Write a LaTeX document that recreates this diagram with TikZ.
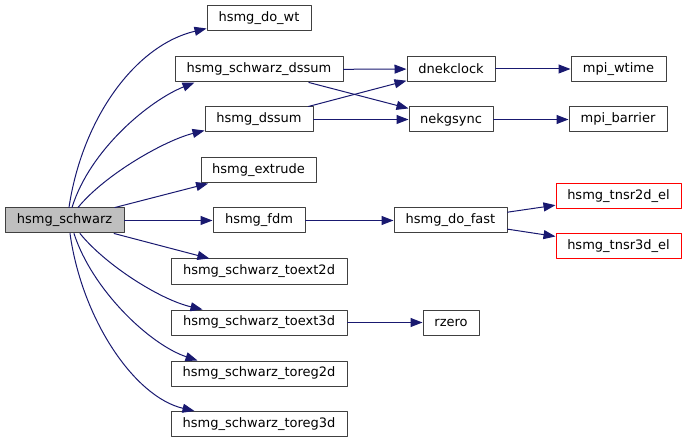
\documentclass[tikz,border=0pt]{standalone}
\usepackage{fontspec}
\setmainfont{DejaVu Sans}
\usetikzlibrary{arrows.meta}
\definecolor{edgeblue}{HTML}{191970}
\definecolor{boxgray}{HTML}{404040}

\begin{document}
\begin{tikzpicture}[x=1pt, y=-1pt, line cap=round, line join=round,
    fn/.style={draw=boxgray, line width=1pt, minimum height=25pt, inner sep=0pt, font=\fontsize{13}{15}\selectfont},
    fnroot/.style={fn, fill=black!25},
    fnext/.style={fn, draw=red},
    call/.style={draw=edgeblue, line width=1pt, -{Triangle[length=12pt,width=9pt]}}]
    \useasboundingbox (0,0) rectangle (687,443);
    % functions
    \node[fnroot, minimum width=119pt] (schwarz) at (64.5,220.5) {hsmg\_schwarz};
    \node[fn, minimum width=104pt] (dowt) at (259,18.5) {hsmg\_do\_wt};
    \node[fn, minimum width=168pt] (schwdssum) at (259,69.5) {hsmg\_schwarz\_dssum};
    \node[fn, minimum width=108pt] (dssum) at (259,119.5) {hsmg\_dssum};
    \node[fn, minimum width=115pt] (extrude) at (258.5,170.5) {hsmg\_extrude};
    \node[fn, minimum width=92pt] (fdm) at (259,220.5) {hsmg\_fdm};
    \node[fn, minimum width=176pt] (toextii) at (259,271.5) {hsmg\_schwarz\_toext2d};
    \node[fn, minimum width=176pt] (toextiii) at (259,322.5) {hsmg\_schwarz\_toext3d};
    \node[fn, minimum width=176pt] (toregii) at (259,373.5) {hsmg\_schwarz\_toreg2d};
    \node[fn, minimum width=176pt] (toregiii) at (259,424) {hsmg\_schwarz\_toreg3d};
    \node[fn, minimum width=88pt] (dnekclock) at (451,69) {dnekclock};
    \node[fn, minimum width=84pt] (nekgsync) at (451,119.5) {nekgsync};
    \node[fn, minimum width=95pt] (wtime) at (618.5,69) {mpi\_wtime};
    \node[fn, minimum width=98pt] (barrier) at (618,119.5) {mpi\_barrier};
    \node[fn, minimum width=113pt] (dofast) at (450.5,220.5) {hsmg\_do\_fast};
    \node[fnext, minimum width=125pt] (tnsrii) at (618.5,196) {hsmg\_tnsr2d\_el};
    \node[fnext, minimum width=125pt] (tnsriii) at (618.5,246) {hsmg\_tnsr3d\_el};
    \node[fn, minimum width=56pt] (rzero) at (451,322.5) {rzero};
    % calls
    \draw[call] ([xshift=4.5pt]schwarz.north) .. controls +(13,-88) and +(-72,17) .. ([yshift=3pt]dowt.south west);
    \draw[call] ([xshift=7.5pt]schwarz.north) .. controls +(18,-58) and +(-45,18) .. ([xshift=20pt]schwdssum.south west);
    \draw[call] ([xshift=13.5pt]schwarz.north) .. controls +(27,-33) and +(-40,10) .. ([yshift=2pt]dssum.south west);
    \draw[call] ([xshift=15.5pt]schwarz.south) .. controls +(25,31) and +(-43,-10) .. ([xshift=32pt]toextiii.north west);
    \draw[call] ([xshift=9.5pt]schwarz.south) .. controls +(18,56) and +(-48,-16) .. ([xshift=27pt]toregii.north west);
    \draw[call] ([xshift=5.5pt]schwarz.south) .. controls +(12,86) and +(-60,-14) .. ([xshift=24pt]toregiii.north west);
    \foreach \a/\b in {schwarz/extrude, schwarz/fdm, schwarz/toextii, schwdssum/dnekclock, schwdssum/nekgsync,
        dssum/dnekclock, dssum/nekgsync, dnekclock/wtime, nekgsync/barrier, fdm/dofast,
        dofast/tnsrii, dofast/tnsriii, toextiii/rzero}
      \draw[call] (\a) -- (\b);
\end{tikzpicture}
\end{document}
